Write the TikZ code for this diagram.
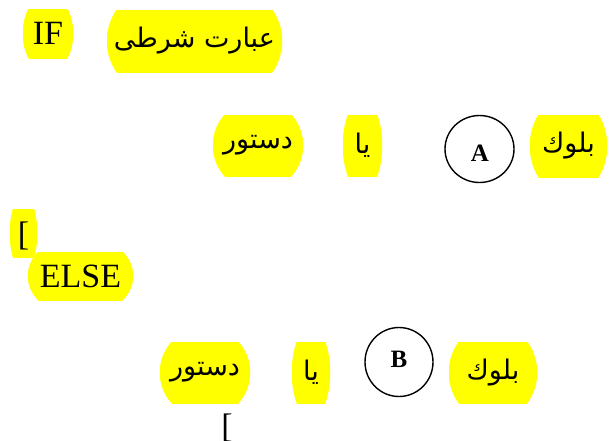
\documentclass[tikz,border=0pt]{standalone}
\usepackage{fontspec}
\setmainfont{Liberation Serif}
\newfontfamily\arabicfont[Script=Arabic]{DejaVu Sans}
\TeXXeTstate=1
\definecolor{yel}{RGB}{255,255,0}
\begin{document}
\begin{tikzpicture}[x=1pt,y=-1pt,
  blob/.style args={#1/#2/#3}{rectangle, inner sep=0pt, minimum width=#1, minimum height=#2,
    path picture={\fill[yel] (path picture bounding box.center) ellipse [x radius=#1/2+0.3pt, y radius=#3*#2/2];}},
  lat/.style={font=\fontsize{34}{34}\selectfont},
  ar/.style={font=\arabicfont\fontsize{27}{27}\selectfont},
  ring/.style={line width=1.4pt},
  letter/.style={font=\bfseries\fontsize{25}{25}\selectfont},
]
\useasboundingbox (0,0) rectangle (611,440);
\node[blob=50pt/49pt/1.6, lat] (if) at (48,33.5) {IF};
\node[blob=175pt/62pt/2.2, ar] (cond) at (194.5,41) {\beginR عبارت شرطی\endR};
\node[blob=90pt/61pt/1.5, ar] (st1) at (258,145.5) {\beginR دستور\endR};
\node[blob=39pt/61pt/1.5, ar] (ya1) at (362.5,145.5) {\beginR یا\endR};
\draw[ring] (479.5,149) ellipse [x radius=34.5, y radius=33.5];
\node[letter] (a) at (480,153) {A};
\node[blob=77pt/62pt/1.6, ar] (bl1) at (568.5,146) {\beginR بلوك\endR};
\node[blob=27pt/48pt/1.6, lat] (br1) at (23.5,233) {\raisebox{-12pt}[0pt][0pt]{[}};
\node[blob=105pt/48pt/1.7, lat] (else) at (80.5,276) {ELSE};
\node[blob=90pt/61pt/1.5, ar] (st2) at (205,372.5) {\beginR دستور\endR};
\node[blob=38pt/61pt/1.5, ar] (ya2) at (311,372.5) {\beginR یا\endR};
\draw[ring] (399,362) ellipse [x radius=34, y radius=34.5];
\node[letter] (b) at (399,359.5) {B};
\node[blob=88pt/61pt/1.6, ar] (bl2) at (493,372.5) {\beginR بلوك\endR};
\node[lat, anchor=base, inner sep=0pt] (br2) at (227,437) {[};
\end{tikzpicture}
\end{document}
